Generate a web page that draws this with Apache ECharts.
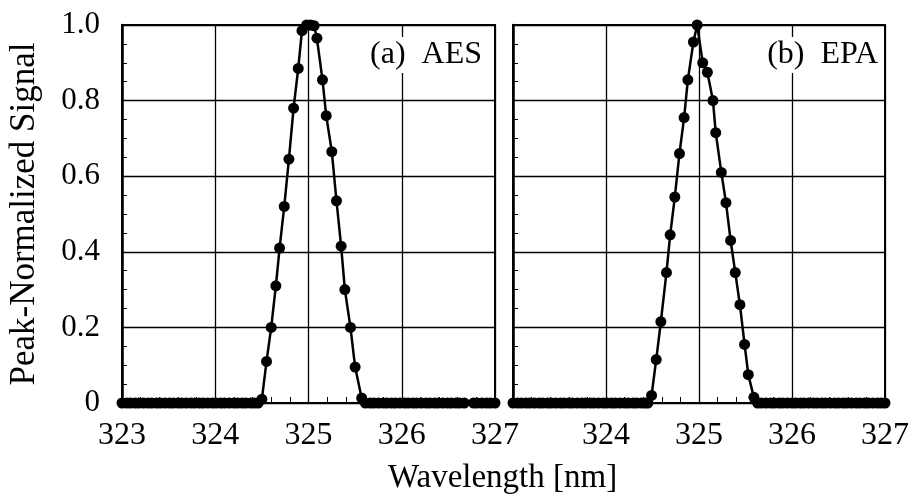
<!DOCTYPE html>
<html>
<head>
<meta charset="utf-8">
<script src="https://cdn.jsdelivr.net/npm/echarts@6/dist/echarts.min.js"></script>
<style>html,body{margin:0;padding:0;background:#fff;}#c{width:912px;height:497px;}</style>
</head>
<body>
<div id="c"></div>
<script>
// ---- data ----
const xTicks = [323, 324, 325, 326, 327];
const yTicks = [0, 0.2, 0.4, 0.6, 0.8, 1.0];
const panelLabels = ['(a)  AES', '(b)  EPA'];
const xName = 'Wavelength [nm]';
const yName = 'Peak-Normalized Signal';

const aesX = [323.00,323.05,323.09,323.14,323.18,323.23,323.28,323.32,323.37,323.41,323.46,323.51,323.55,323.60,323.64,323.69,323.74,323.78,323.83,323.87,323.92,323.97,324.01,324.06,324.10,324.15,324.20,324.24,324.29,324.33,324.38,324.42,324.46,
  324.50,324.55,324.60,324.65,324.69,324.74,324.79,324.84,324.89,324.93,324.98,325.02,325.06,325.09,325.15,325.19,325.25,325.30,325.35,325.39,325.45,325.50,325.57,
  325.61,325.66,325.70,325.75,325.80,325.84,325.89,325.93,325.98,326.03,326.07,326.12,326.16,326.21,326.26,326.30,326.35,326.39,326.44,326.49,326.53,326.58,326.62,326.67,326.77,326.81,326.86,326.91,326.95,327.00];
const aesY = [0,0,0,0,0,0,0,0,0,0,0,0,0,0,0,0,0,0,0,0,0,0,0,0,0,0,0,0,0,0,0,0,0,
  0.01,0.11,0.20,0.31,0.41,0.52,0.645,0.78,0.885,0.985,1.0,1.0,0.998,0.965,0.855,0.76,0.665,0.535,0.415,0.30,0.20,0.095,0.013,
  0,0,0,0,0,0,0,0,0,0,0,0,0,0,0,0,0,0,0,0,0,0,0,0,0,0,0,0,0,0];

const epaX = [323.00,323.05,323.09,323.14,323.18,323.23,323.28,323.32,323.37,323.41,323.46,323.51,323.55,323.60,323.64,323.69,323.74,323.78,323.83,323.87,323.92,323.97,324.01,324.06,324.10,324.15,324.20,324.24,324.29,324.33,324.38,324.42,324.45,
  324.49,324.54,324.59,324.65,324.69,324.74,324.79,324.84,324.88,324.94,324.98,325.04,325.09,325.15,325.18,325.24,325.29,325.34,325.39,325.44,325.49,325.53,325.59,
  325.63,325.67,325.72,325.77,325.81,325.86,325.90,325.95,326.00,326.04,326.09,326.13,326.18,326.23,326.27,326.32,326.36,326.41,326.46,326.50,326.55,326.59,326.64,326.69,326.73,326.78,326.82,326.87,326.92,326.96,327.00];
const epaY = [0,0,0,0,0,0,0,0,0,0,0,0,0,0,0,0,0,0,0,0,0,0,0,0,0,0,0,0,0,0,0,0,0,
  0.02,0.115,0.215,0.345,0.445,0.545,0.66,0.755,0.855,0.955,1.0,0.90,0.875,0.80,0.715,0.61,0.53,0.43,0.345,0.26,0.155,0.075,0.015,
  0,0,0,0,0,0,0,0,0,0,0,0,0,0,0,0,0,0,0,0,0,0,0,0,0,0,0,0,0,0,0];

// ---- chart ----
const FONT = '"Liberation Serif", "Times New Roman", serif';
const chart = echarts.init(document.getElementById('c'), null, {renderer: 'canvas'});

function xAxisCfg(idx, hideFirst) {
  return {
    type: 'value', gridIndex: idx, min: xTicks[0], max: xTicks[xTicks.length - 1], interval: 1,
    axisLine: {show: true, lineStyle: {color: '#000', width: 2}},
    axisTick: {show: true, inside: true, length: 6, lineStyle: {color: '#000', width: 1}},
    minorTick: {show: true, splitNumber: 5, length: 6, lineStyle: {color: '#000', width: 1}},
    splitLine: {show: true, lineStyle: {color: '#000', width: 1.3}},
    axisLabel: {
      color: '#000', fontFamily: FONT, fontSize: 32, margin: 17,
      formatter: v => (hideFirst && v === xTicks[0]) ? '' : String(v)
    }
  };
}
function yAxisCfg(idx, showLabels) {
  return {
    type: 'value', gridIndex: idx, min: 0, max: 1, interval: 0.2,
    axisLine: {show: true, lineStyle: {color: '#000', width: 2.5}},
    axisTick: {show: true, inside: true, length: 6, lineStyle: {color: '#000', width: 1}},
    minorTick: {show: true, splitNumber: 4, length: 5, lineStyle: {color: '#000', width: 1}},
    splitLine: {show: true, lineStyle: {color: '#000', width: 1.3}},
    axisLabel: {
      show: showLabels, color: '#000', fontFamily: FONT, fontSize: 31, margin: 22,
      formatter: v => v === 0 ? '0' : v.toFixed(1)
    },
    name: showLabels ? yName : '',
    nameLocation: 'middle', nameGap: 80, nameRotate: 90,
    nameTextStyle: {color: '#000', fontFamily: FONT, fontSize: 35}
  };
}
function seriesCfg(idx, xs, ys) {
  return {
    type: 'line', xAxisIndex: idx, yAxisIndex: idx,
    data: xs.map((x, i) => [x, ys[i]]),
    symbol: 'circle', symbolSize: 11, showSymbol: true,
    lineStyle: {color: '#000', width: 2.5},
    itemStyle: {color: '#000'},
    clip: false, animation: false, z: 5
  };
}

chart.setOption({
  backgroundColor: '#fff',
  animation: false,
  grid: [
    {left: 122, right: 417, top: 25, bottom: 94, show: true, borderColor: '#000', borderWidth: 2, backgroundColor: 'transparent'},
    {left: 513, right: 25, top: 25, bottom: 94, show: true, borderColor: '#000', borderWidth: 2, backgroundColor: 'transparent'}
  ],
  xAxis: [xAxisCfg(0, false), xAxisCfg(1, true)],
  yAxis: [yAxisCfg(0, true), yAxisCfg(1, false)],
  series: [seriesCfg(0, aesX, aesY), seriesCfg(1, epaX, epaY)],
  graphic: [
    {type: 'text', right: 912 - 484, top: 37, z: 10,
     style: {text: panelLabels[0], fill: '#000', font: '32px ' + FONT, backgroundColor: '#fff', padding: [2, 2]}},
    {type: 'text', right: 912 - 880, top: 37, z: 10,
     style: {text: panelLabels[1], fill: '#000', font: '32px ' + FONT, backgroundColor: '#fff', padding: [2, 2]}},
    {type: 'text', left: 388, top: 462, z: 10,
     style: {text: xName, fill: '#000', font: '33px ' + FONT}}
  ]
});
</script>
</body>
</html>
